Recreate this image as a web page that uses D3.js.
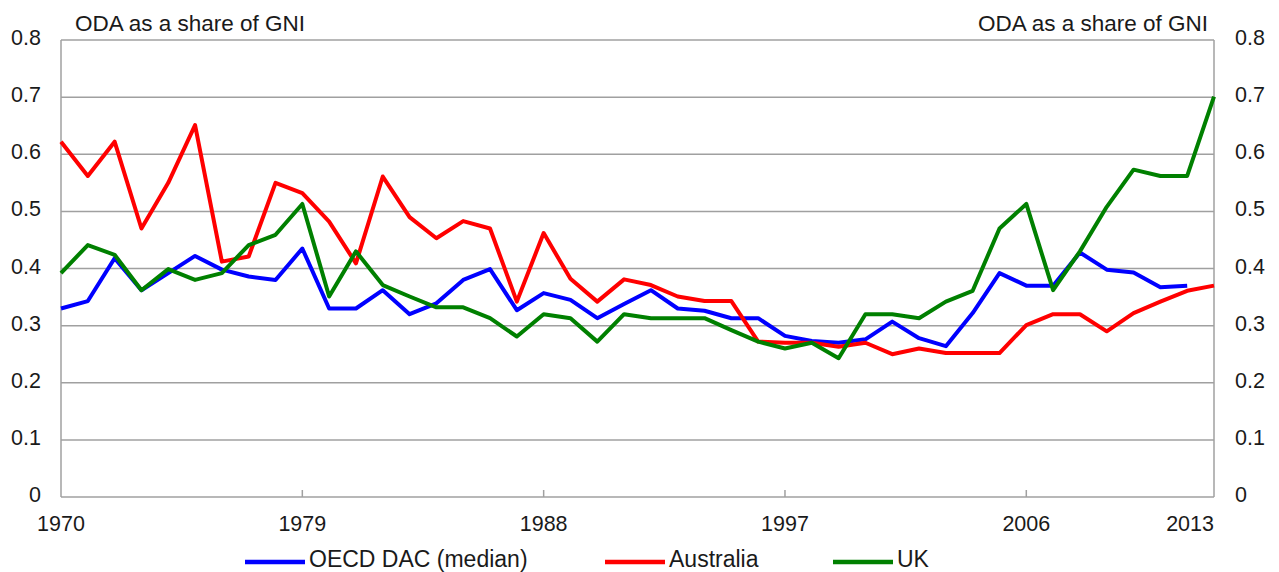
<!DOCTYPE html>
<html><head><meta charset="utf-8">
<script src="https://cdn.jsdelivr.net/npm/d3@7"></script>
<style>body{margin:0;background:#fff;} text{font-family:"Liberation Sans",Arial,sans-serif;fill:#1a1a1a;}</style>
</head><body>
<svg id="c" width="1279" height="572"></svg>
<script>
const years = d3.range(1970, 2014);
const oecd = [0.33,0.343,0.418,0.362,0.392,0.422,0.398,0.386,0.38,0.435,0.33,0.33,0.362,0.32,0.339,0.38,0.399,0.327,0.357,0.345,0.313,0.338,0.362,0.33,0.326,0.313,0.313,0.282,0.273,0.27,0.276,0.307,0.278,0.264,0.322,0.392,0.37,0.37,0.428,0.398,0.393,0.367,0.37,null];
const australia = [0.622,0.562,0.622,0.47,0.55,0.651,0.412,0.421,0.55,0.532,0.482,0.409,0.561,0.49,0.453,0.483,0.47,0.342,0.462,0.382,0.342,0.381,0.371,0.351,0.343,0.343,0.272,0.27,0.27,0.263,0.27,0.25,0.26,0.252,0.252,0.252,0.301,0.32,0.32,0.29,0.322,0.342,0.361,0.37];
const uk = [0.392,0.441,0.424,0.362,0.399,0.38,0.392,0.441,0.459,0.513,0.351,0.43,0.371,0.351,0.332,0.332,0.313,0.281,0.32,0.313,0.272,0.32,0.313,0.313,0.313,0.292,0.272,0.26,0.27,0.243,0.32,0.32,0.313,0.342,0.361,0.47,0.513,0.362,0.43,0.508,0.573,0.562,0.562,0.701];
const yTicks = [0,0.1,0.2,0.3,0.4,0.5,0.6,0.7,0.8];
const xTickYears = [1970,1979,1988,1997,2006,2013];
const seriesNames = ["OECD DAC (median)","Australia","UK"];
const seriesColors = ["#0000ff","#ff0000","#008000"];
const axisTitle = "ODA as a share of GNI";

const svg = d3.select("#c");
const L = 61, R = 1214, T = 40, B = 497;
const x = d3.scaleLinear().domain([1970, 2013]).range([L, R]);
const y = d3.scaleLinear().domain([0, 0.8]).range([B, T]);
const grid = "#a0a0a0";

svg.append("g").selectAll("line").data(yTicks.filter(d=>d>0)).join("line")
  .attr("x1", L).attr("x2", R).attr("y1", d=>y(d)).attr("y2", d=>y(d))
  .attr("stroke", grid).attr("stroke-width", 1.5);

svg.append("line").attr("x1",L).attr("x2",L).attr("y1",T).attr("y2",B).attr("stroke",grid).attr("stroke-width",1.5);
svg.append("line").attr("x1",R).attr("x2",R).attr("y1",T).attr("y2",B).attr("stroke",grid).attr("stroke-width",1.5);
svg.append("line").attr("x1",L).attr("x2",R).attr("y1",B).attr("y2",B).attr("stroke",grid).attr("stroke-width",1.5);

svg.append("g").selectAll("line").data(xTickYears.filter(d=>d>1970 && d<2013)).join("line")
  .attr("x1", d=>x(d)).attr("x2", d=>x(d)).attr("y1", B).attr("y2", B-7)
  .attr("stroke", grid).attr("stroke-width", 1.5);

const fmt = d => d===0 ? "0" : d3.format(".1f")(d);
svg.append("g").selectAll("text").data(yTicks).join("text")
  .attr("x", 41).attr("y", d=>y(d)+5).attr("text-anchor","end")
  .attr("font-size", 21.5).text(fmt);
svg.append("g").selectAll("text").data(yTicks).join("text")
  .attr("x", 1235).attr("y", d=>y(d)+5).attr("text-anchor","start")
  .attr("font-size", 21.5).text(fmt);

svg.append("g").selectAll("text").data(xTickYears).join("text")
  .attr("x", d=>x(d)).attr("y", 531)
  .attr("text-anchor", d=>d===2013 ? "end" : "middle")
  .attr("font-size", 21.5).text(d=>d);

svg.append("text").attr("x",75).attr("y",31).attr("font-size",22.5).text(axisTitle);
svg.append("text").attr("x",1208).attr("y",31).attr("font-size",22.5).attr("text-anchor","end").text(axisTitle);

const allSeries = [oecd, australia, uk];
const line = d3.line().defined(d=>d[1]!=null).x(d=>x(d[0])).y(d=>y(d[1]));
allSeries.forEach((s,i)=>{
  svg.append("path").datum(years.map((yr,j)=>[yr,s[j]]))
    .attr("d", line).attr("fill","none").attr("stroke", seriesColors[i])
    .attr("stroke-width", 4).attr("stroke-linejoin","round");
});

const legX = [245, 605, 833];
seriesNames.forEach((n,i)=>{
  svg.append("line").attr("x1",legX[i]).attr("x2",legX[i]+60).attr("y1",562).attr("y2",562)
    .attr("stroke",seriesColors[i]).attr("stroke-width",4.5);
  svg.append("text").attr("x",legX[i]+64).attr("y",566.5).attr("font-size",23).text(n);
});
</script>
</body></html>
